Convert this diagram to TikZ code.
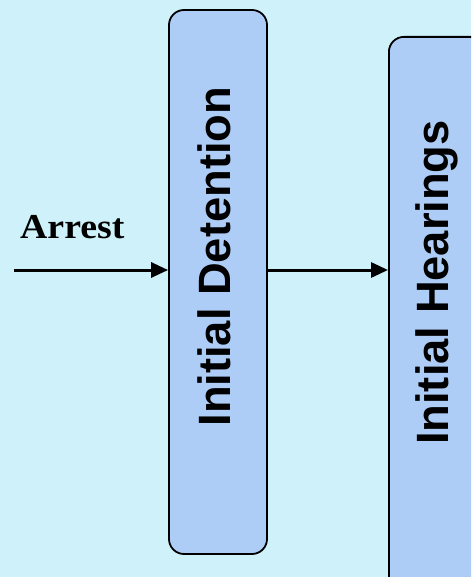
\documentclass[tikz,border=0pt]{standalone}
\usepackage{fontspec}
\setmainfont{Liberation Serif}
\newfontfamily\boxfont{Liberation Sans}
\newfontfamily\lblfont[FakeStretch=1.08]{Liberation Serif}
\usetikzlibrary{arrows.meta}
\definecolor{bgcol}{RGB}{206,241,250}
\definecolor{boxcol}{RGB}{173,205,247}
\tikzset{
  stagebox/.style={draw=black, line width=1.8pt, fill=boxcol, rounded corners=15pt, inner sep=0pt},
  stagetext/.style={font=\boxfont\bfseries\fontsize{45.3}{50}\selectfont, rotate=90, anchor=base, inner sep=0pt},
  flow/.style={line width=3pt, -{Triangle[length=17pt,width=15pt]}},
  lbl/.style={font=\lblfont\bfseries\fontsize{35}{40}\selectfont, anchor=base west, inner sep=0pt}
}
\begin{document}
\begin{tikzpicture}[x=1pt,y=-1pt]
\clip (0,0) rectangle (471,577);
\useasboundingbox (0,0) rectangle (471,577);
\fill[bgcol] (0,0) rectangle (471,577);
\node[stagebox, minimum width=98pt, minimum height=544pt] (det) at (218,282) {};
\node[stagebox, minimum width=130pt, minimum height=600pt, anchor=north west] (hear) at (388,36) {};
\node[stagetext] (dett) at (230,256.7) {Initial Detention};
\node[stagetext] (heart) at (448,282.5) {Initial Hearings};
\coordinate (start) at (14,270);
\node[lbl] (arr) at (20,238) {Arrest};
\draw[flow] (start) -- (det.west |- start);
\draw[flow] (det.east |- start) -- (hear.west |- start);
\end{tikzpicture}
\end{document}
